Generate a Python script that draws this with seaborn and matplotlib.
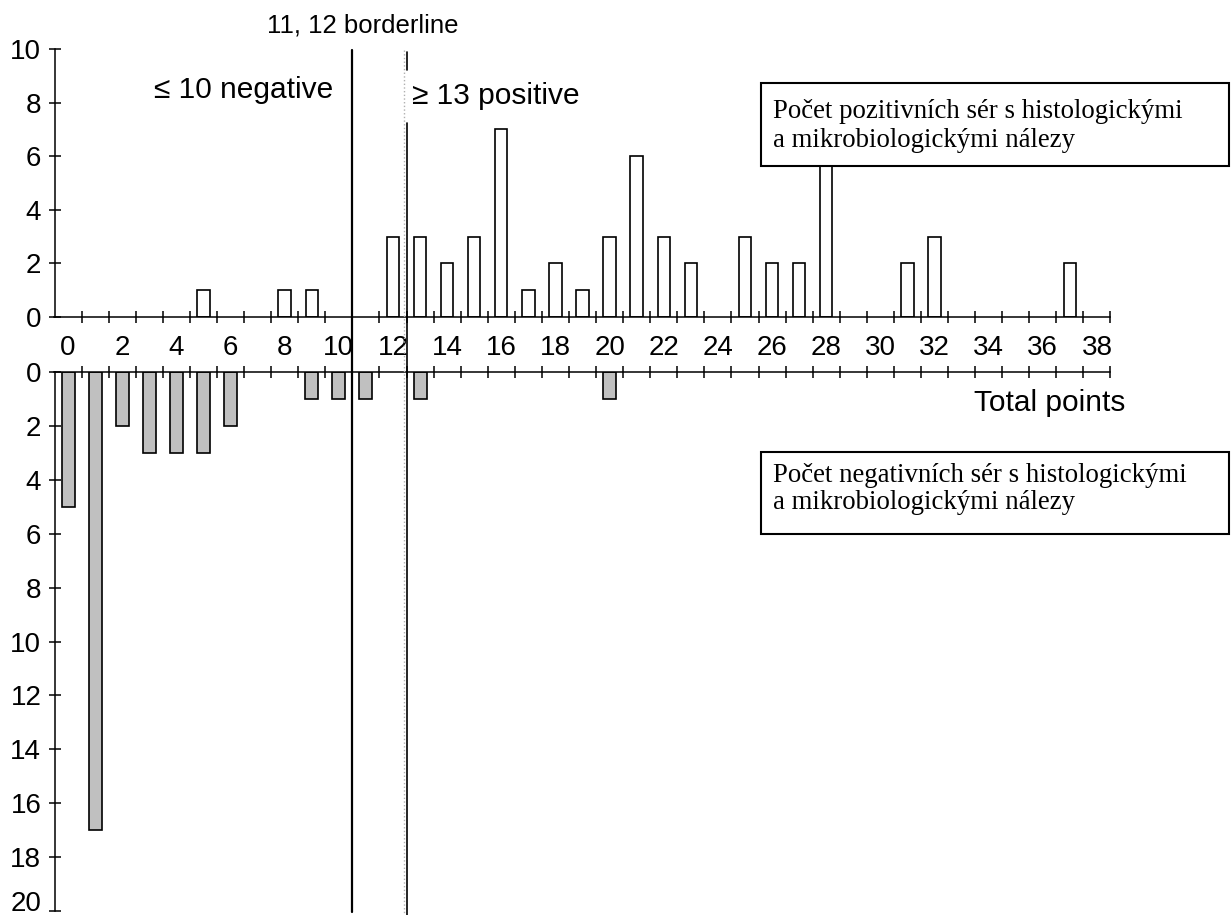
import matplotlib
matplotlib.use("Agg")
import matplotlib.pyplot as plt
from matplotlib import transforms
from matplotlib.lines import Line2D
from matplotlib.patches import Rectangle
import numpy as np
import pandas as pd
import seaborn as sns

# Total points -> number of sera (positive above, negative below)
pos_points = [5, 8, 9, 12, 13, 14, 15, 16, 17, 18, 19, 20, 21, 22, 23, 25, 26, 27, 28, 31, 32, 37]
pos_counts = [1, 1, 1, 3, 3, 2, 3, 7, 1, 2, 1, 3, 6, 3, 2, 3, 2, 2, 6, 2, 3, 2]
neg_points = [0, 1, 2, 3, 4, 5, 6, 9, 10, 11, 13, 20]
neg_counts = [5, 17, 2, 3, 3, 3, 2, 1, 1, 1, 1, 1]

x_labels = list(range(0, 39, 2))
pos_yticks = list(range(0, 11, 2))
neg_yticks = list(range(0, 21, 2))

box_pos_lines = ["Počet pozitivních sér s histologickými", "a mikrobiologickými nálezy"]
box_neg_lines = ["Počet negativních sér s histologickými", "a mikrobiologickými nálezy"]

W, H = 1231, 915


def fx(px):
    return px / W


def fy(py):
    return 1 - py / H


sns.set_style("ticks")
plt.rcParams["font.family"] = ["Liberation Sans", "DejaVu Sans"]
plt.rcParams.update({
    "axes.linewidth": 1.1,
    "axes.edgecolor": "black",
    "text.color": "black",
    "xtick.color": "black",
    "ytick.color": "black",
    "xtick.labelcolor": "black",
    "ytick.labelcolor": "black",
})

fig = plt.figure(figsize=(W / 100, H / 100), dpi=100)
left, right = 54.5, 1110.5
ax_top = fig.add_axes([fx(left), fy(317), (right - left) / W, (317 - 49) / H])
ax_bot = fig.add_axes([fx(left), fy(911), (right - left) / W, (911 - 372) / H])

pos_df = pd.DataFrame({"points": pos_points, "count": pos_counts})
neg_df = pd.DataFrame({"points": neg_points, "count": neg_counts})

sns.barplot(data=pos_df, x="points", y="count", native_scale=True, width=0.46,
            color="white", edgecolor="black", linewidth=1.2, saturation=1, ax=ax_top)
sns.barplot(data=neg_df, x="points", y="count", native_scale=True, width=0.48,
            color="#c0c0c0", edgecolor="black", linewidth=1.2, saturation=1, ax=ax_bot)

minor = np.arange(0.5, 39, 1)
for ax in (ax_top, ax_bot):
    ax.set_xlim(-0.5, 38.5)
    ax.set_xlabel("")
    ax.set_ylabel("")
    ax.set_xticks(minor, minor=True)
    ax.tick_params(axis="x", which="minor", direction="inout", length=9, width=1.1)
    ax.tick_params(axis="y", direction="inout", length=9, width=1.1, labelsize=20, pad=5)
    ax.spines["right"].set_visible(False)

# upper panel
ax_top.set_ylim(0, 10)
ax_top.set_yticks(pos_yticks)
ax_top.set_xticks(x_labels)
ax_top.set_xticklabels([str(v) for v in x_labels])
ax_top.tick_params(axis="x", which="major", length=0, labelsize=20, pad=13)
ax_top.spines["top"].set_visible(False)

# lower panel, hanging down
ax_bot.set_ylim(20, 0)
ax_bot.set_yticks(neg_yticks)
ax_bot.xaxis.tick_top()
ax_bot.set_xticks([])
ax_bot.spines["bottom"].set_visible(False)
# keep the last label ("20") inside the canvas
fig.canvas.draw()
last = ax_bot.get_yticklabels()[-1]
last.set_transform(last.get_transform()
                   + transforms.ScaledTranslation(0, 7 / 72, fig.dpi_scale_trans))

# borderline separators
blend = transforms.blended_transform_factory(ax_top.transData, fig.transFigure)
fig.add_artist(Line2D([10.5, 10.5], [fy(50), fy(912)], transform=blend, color="black", lw=1.6))
fig.add_artist(Line2D([12.42, 12.42], [fy(50), fy(915)], transform=blend, color="#b0b0b0",
                      lw=1.0, linestyle=":"))
fig.add_artist(Line2D([12.53, 12.53], [fy(52), fy(70)], transform=blend, color="black", lw=1.2))
fig.add_artist(Line2D([12.53, 12.53], [fy(123), fy(915)], transform=blend, color="black", lw=1.2))

fig.text(fx(267), fy(33), "11, 12 borderline", ha="left", va="baseline", fontsize=18.5)
fig.text(fx(333), fy(98), "≤ 10 negative", ha="right", va="baseline", fontsize=21.5)
fig.text(fx(412), fy(104), "≥ 13 positive", ha="left", va="baseline", fontsize=21.5)
fig.text(fx(1125), fy(411), "Total points", ha="right", va="baseline", fontsize=21.5)


def text_box(top, bottom, baselines, lines):
    fig.add_artist(Rectangle((fx(761), fy(bottom)), (1229 - 761) / W, (bottom - top) / H,
                             transform=fig.transFigure, facecolor="white",
                             edgecolor="black", lw=1.5, zorder=5))
    for b, line in zip(baselines, lines):
        fig.text(fx(773), fy(b), line, ha="left", va="baseline", fontsize=19.3,
                 family=["Liberation Serif", "DejaVu Serif"], zorder=6)


text_box(83, 166, [118, 147], box_pos_lines)
text_box(452, 534, [482, 509], box_neg_lines)

fig.savefig("out.png", dpi=100)
plt.close(fig)
